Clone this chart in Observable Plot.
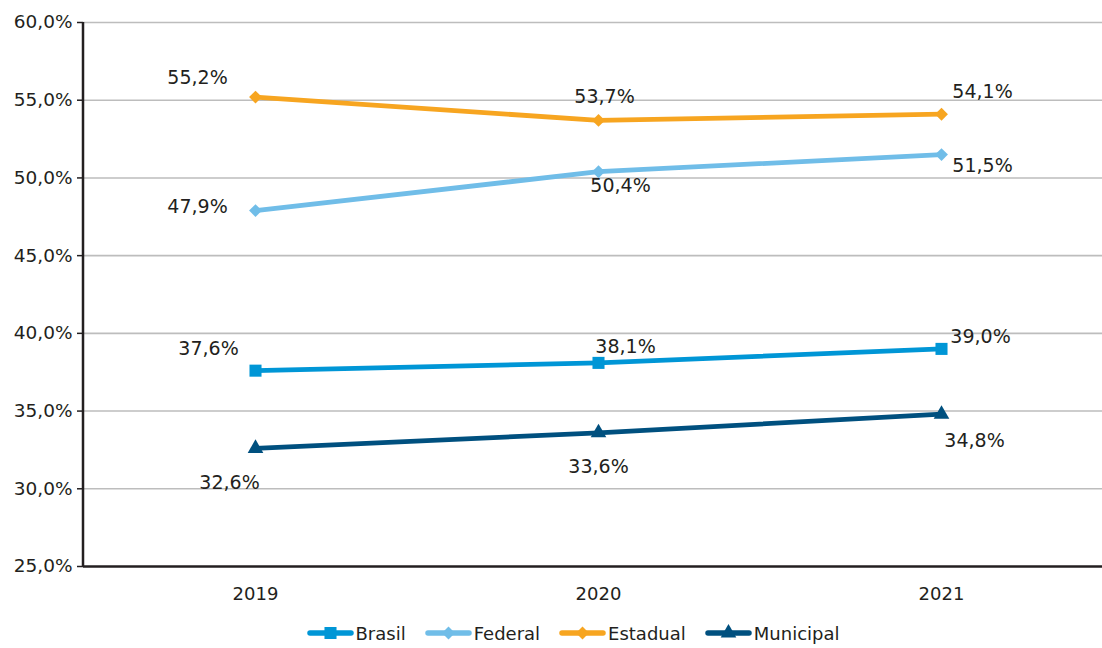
<!DOCTYPE html>
<html>
<head>
<meta charset="utf-8">
<script src="https://cdn.jsdelivr.net/npm/d3@7"></script>
<script src="https://cdn.jsdelivr.net/npm/@observablehq/plot@0.6"></script>
<style>
  html, body { margin: 0; padding: 0; background: #fff; }
  body { width: 1102px; height: 648px; overflow: hidden; font-family: "DejaVu Sans", sans-serif; }
  #legend { display: flex; justify-content: center; align-items: center; gap: 19px; height: 30px; font-size: 18px; color: #231f20; margin-left: 44px; }
  .item { display: flex; align-items: center; }
  .item svg { margin-right: 2px; }
</style>
</head>
<body>
<div id="chart"></div>
<div id="legend"></div>
<script>
// ---- data ----
const years = ["2019", "2020", "2021"];
const seriesNames = ["Brasil", "Federal", "Estadual", "Municipal"];
const brasil = [37.6, 38.1, 39.0];
const federal = [47.9, 50.4, 51.5];
const estadual = [55.2, 53.7, 54.1];
const municipal = [32.6, 33.6, 34.8];
const yTicks = [25, 30, 35, 40, 45, 50, 55, 60];

// ---- styling / layout ----
const colors = {Brasil: "#0096d6", Federal: "#70bde8", Estadual: "#f7a520", Municipal: "#00507f"};
const symbols = {Brasil: "square", Federal: "diamond2", Estadual: "diamond2", Municipal: "triangle"};
const radii = {Brasil: 6.8, Federal: 5.8, Estadual: 5.8, Municipal: 5.8};
// label offsets in pixels (dx, dy) per series, per year
const labelOffsets = {
  Brasil:    [[-47, -22], [27, -16], [39, -12]],
  Federal:   [[-58, -4],  [22, 14],  [41, 11]],
  Estadual:  [[-58, -19], [6, -24],  [41, -22]],
  Municipal: [[-26, 35],  [0, 34],   [33, 27]]
};

const valuesBySeries = {Brasil: brasil, Federal: federal, Estadual: estadual, Municipal: municipal};
const rows = [];
for (const s of seriesNames) {
  valuesBySeries[s].forEach((v, i) => rows.push({series: s, year: years[i], value: v, idx: i}));
}

const fmt = v => v.toFixed(1).replace(".", ",") + "%";
const textColor = "#231f20";

const labelMarks = [];
for (const r of rows) {
  const [dx, dy] = labelOffsets[r.series][r.idx];
  labelMarks.push(Plot.text([r], {x: "year", y: "value", text: d => fmt(d.value), dx, dy,
    fontSize: 19, fill: textColor}));
}

const plot = Plot.plot({
  width: 1102,
  height: 618,
  marginTop: 22,
  marginBottom: 52,
  marginLeft: 83,
  marginRight: 0,
  style: {fontFamily: "'DejaVu Sans', sans-serif", fontSize: "17px", color: textColor, background: "#fff"},
  x: {type: "point", domain: years, range: [255, 941], padding: 0, label: null},
  y: {domain: [25, 60], label: null},
  r: {type: "identity"},
  marks: [
    Plot.ruleY(yTicks.filter(t => t > 25), {stroke: "#bdbdbd", strokeWidth: 1.6}),
    Plot.axisY({ticks: yTicks, tickFormat: d => d.toFixed(1).replace(".", ",") + "%", tickSize: 6, tickPadding: 5,
      stroke: textColor, strokeWidth: 1.5, fontSize: 18.5, fill: textColor, label: null}),
    Plot.axisX({tickSize: 0, tickPadding: 21, fontSize: 18, fill: textColor, label: null}),
    Plot.ruleY([25], {stroke: textColor, strokeWidth: 2.5}),
    Plot.lineY(rows, {x: "year", y: "value", z: "series", stroke: d => colors[d.series], strokeWidth: 4.8}),
    Plot.dot(rows, {x: "year", y: "value", symbol: d => symbols[d.series], fill: d => colors[d.series],
      r: d => radii[d.series]}),
    ...labelMarks
  ]
});
document.getElementById("chart").appendChild(plot);
// left axis line
const svg = d3.select(plot);
svg.append("line").attr("x1", 83).attr("x2", 83).attr("y1", 22).attr("y2", 567)
  .attr("stroke", textColor).attr("stroke-width", 2.5);

// legend
const legend = document.getElementById("legend");
for (const s of seriesNames) {
  const item = document.createElement("div");
  item.className = "item";
  const sw = d3.create("svg").attr("width", 47).attr("height", 20);
  sw.append("line").attr("x1", 3).attr("x2", 44).attr("y1", 10).attr("y2", 10)
    .attr("stroke", colors[s]).attr("stroke-width", 5.5).attr("stroke-linecap", "round");
  const sym = {square: d3.symbolSquare, diamond2: d3.symbolDiamond2, triangle: d3.symbolTriangle}[symbols[s]];
  sw.append("path").attr("d", d3.symbol(sym, Math.PI * radii[s] * radii[s])()).attr("transform", "translate(23.5,10)")
    .attr("fill", colors[s]);
  item.appendChild(sw.node());
  const t = document.createElement("span");
  t.textContent = s;
  item.appendChild(t);
  legend.appendChild(item);
}
</script>
</body>
</html>
